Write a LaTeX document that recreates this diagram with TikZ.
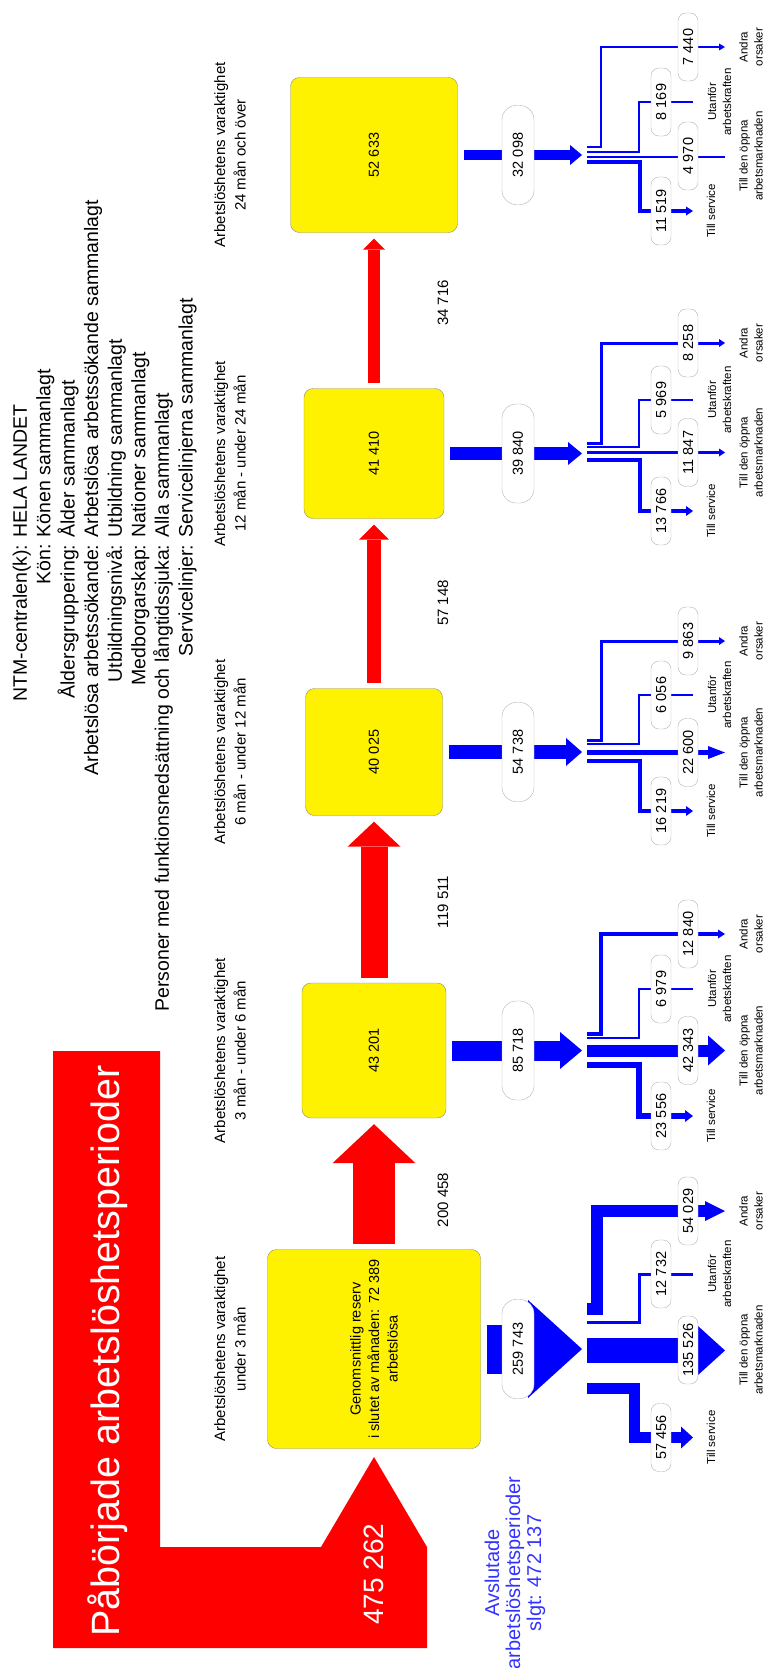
\documentclass[tikz,border=0pt]{standalone}
\usepackage{fontspec}
\setmainfont{Liberation Sans}
\usetikzlibrary{positioning,arrows.meta}
\tikzset{>=latex}
\definecolor{boxline}{RGB}{140,140,110}
\definecolor{endblue}{RGB}{51,51,255}
\tikzset{
  box/.style={rotate=90, draw=boxline, fill=yellow, rounded corners=9pt, inner sep=0pt,
    align=center, font=\fontsize{14.5}{18.5}\selectfont},
  pill/.style={rotate=90, draw=black!30, fill=white, rounded corners=8pt, inner sep=0pt,
    minimum width=68pt, minimum height=20pt, font=\fontsize{14.5}{16}\selectfont},
  bigpill/.style={pill, minimum width=99pt, minimum height=32pt, rounded corners=14pt},
  heading/.style={rotate=90, align=center, font=\fontsize{15}{20.5}\selectfont},
  cat/.style={rotate=90, align=center, font=\fontsize{11.5}{15}\selectfont},
  num/.style={rotate=90, font=\fontsize{15}{18}\selectfont},
  redflow/.style n args={3}{red, line width=#1, shorten <=5pt, shorten >=6pt,
    -{Triangle[width=#2, length=#3, line width=0pt]}},
  blueflow/.style n args={3}{blue, line width=#1,
    -{Triangle[width=#2, length=#3, line width=0pt]}}
}
\begin{document}
\begin{tikzpicture}[x=1pt, y=-1pt, >=latex]
\useasboundingbox (0,0) rectangle (765,1670);

\node[rotate=90, font=\fontsize{19.5}{23.6}\selectfont] (info) at (105,606) {%
  \begin{tabular}{@{}r@{ }l@{}}
    NTM-centralen(k): & HELA LANDET\\
    Kön: & Könen sammanlagt\\
    Åldersgruppering: & Ålder sammanlagt\\
    Arbetslösa arbetssökande: & Arbetslösa arbetssökande sammanlagt\\
    Utbildningsnivå: & Utbildning sammanlagt\\
    Medborgarskap: & Nationer sammanlagt\\
    Personer med funktionsnedsättning och långtidssjuka: & Alla sammanlagt\\
    Servicelinjer: & Servicelinjerna sammanlagt
  \end{tabular}};

\fill[red] (53,1051) -- (160,1051) -- (160,1547) -- (321,1547) -- (374,1457)
  -- (427,1547) -- (427,1648) -- (53,1648) -- cycle;
\node[rotate=90, anchor=base, text=white, font=\fontsize{39.5}{44}\selectfont] (started) at (119,1351) {Påbörjade arbetslöshetsperioder};
\node[rotate=90, text=white, font=\fontsize{28}{30}\selectfont] (startsum) at (374,1574) {475 262};
\node[rotate=90, align=center, text=endblue, font=\fontsize{20}{21}\selectfont] (ended) at (515,1573) {Avslutade\\arbetslöshetsperioder\\slgt: 472 137};

\node[box, minimum width=199pt, minimum height=213pt] (b1) at (374,1349) {Genomsnittlig reserv\\i slutet av månaden: 72 389\\arbetslösa};
\node[box, minimum width=135pt, minimum height=144pt] (b2) at (374,1050.5) {43 201};
\node[box, minimum width=127pt, minimum height=137pt] (b3) at (374,752) {40 025};
\node[box, minimum width=130pt, minimum height=140pt] (b4) at (374,453.5) {41 410};
\node[box, minimum width=155pt, minimum height=167pt] (b5) at (374,155) {52 633};

\foreach \k/\y/\txt in {1/1349/under 3 mån, 2/1050.5/3 mån - under 6 mån, 3/752/6 mån - under 12 mån,
    4/453.5/12 mån - under 24 mån, 5/155/24 mån och över}
  \node[heading] (h\k) at (230,\y) {Arbetslöshetens varaktighet\\\txt};

\draw[redflow={42pt}{83pt}{39pt}] (b1.east) -- (b2.west);
\draw[redflow={27pt}{53pt}{25pt}] (b2.east) -- (b3.west);
\draw[redflow={14pt}{30pt}{15pt}] (b3.east) -- (b4.west);
\draw[redflow={12pt}{22pt}{11pt}] (b4.east) -- (b5.west);
\foreach \k/\y/\v in {1/1200/200 458, 2/902/119 511, 3/603/57 148, 4/303/34 716}
  \node[num] (r\k) at (443,\y) {\v};

\foreach \k/\y/\lw/\hw/\hl in {1/1349/49/98/54, 2/1050.5/20/37/22, 3/752/14/28/16, 4/453.5/13/23/14, 5/155/10/20/12}
  \draw[blueflow={\lw pt}{\hw pt}{\hl pt}] ([xshift=6pt]b\k.south) -- (582,\y);

% andra orsaker
\foreach \ys/\lw/\vx/\ye/\hw/\hl in {1309/12/597/1211/20/20, 1034/3.5/601/934/9/7, 740/3/601/641/8/6,
    443/3/601/343/8/6, 147/2/601/47/7/6}
  \draw[blueflow={\lw pt}{\hw pt}{\hl pt}] (587,\ys) -| (\vx,\ye) -- (725,\ye);
% utanfor arbetskraften
\foreach \ys/\lw/\ye in {1322/3/1274, 1038/2/989, 743.5/2/695, 447/2/400, 152/2.5/102}
  \draw[blue, line width=\lw pt] (587,\ys) -| (639,\ye) -- (693,\ye);
% till den oppna arbetsmarknaden
\foreach \y/\lw/\hw/\hl in {1350.5/25/49/27, 1050.5/12/30/17, 752.5/5/13/17, 452.5/3/8/6}
  \draw[blueflow={\lw pt}{\hw pt}{\hl pt}] (587,\y) -- (725,\y);
\draw[blue, line width=2pt] (587,156.5) -- (725,156.5);
% till service
\foreach \ys/\lw/\vx/\ye/\hw/\hl in {1388.5/11/634/1437.5/22/12, 1064.5/6/639/1116/12/8, 761/4/640/811/10/7,
    460/4/640/511/10/7, 162/3.5/640/211/9/7}
  \draw[blueflow={\lw pt}{\hw pt}{\hl pt}] (587,\ys) -| (\vx,\ye) -- (693,\ye);

\foreach \k/\y/\v in {1/1349/259 743, 2/1050.5/85 718, 3/752/54 738, 4/453.5/39 840, 5/155/32 098}
  \node[bigpill] (f\k) at (518,\y) {\v};

\foreach \k/\yc/\ys/\yu/\ya/\vm/\vs/\vu/\va in {
    1/1350/1437.5/1274/1211/135 526/57 456/12 732/54 029,
    2/1050.5/1116/989/934/42 343/23 556/6 979/12 840,
    3/752.5/811/695/641/22 600/16 219/6 056/9 863,
    4/452.5/511/400/343/11 847/13 766/5 969/8 258,
    5/156/211/102/47/4 970/11 519/8 169/7 440}{
  \node[pill] (m\k) at (688,\yc) {\vm};
  \node[pill] (s\k) at (661,\ys) {\vs};
  \node[pill] (u\k) at (661,\yu) {\vu};
  \node[pill] (a\k) at (688,\ya) {\va};
  \node[cat] (cm\k) at (751,\yc) {Till den öppna\\arbetsmarknaden};
  \node[cat] (cs\k) at (711,\ys) {Till service};
  \node[cat] (cu\k) at (719.5,\yu) {Utanför\\arbetskraften};
  \node[cat] (ca\k) at (751,\ya) {Andra\\orsaker};
}
\end{tikzpicture}
\end{document}
